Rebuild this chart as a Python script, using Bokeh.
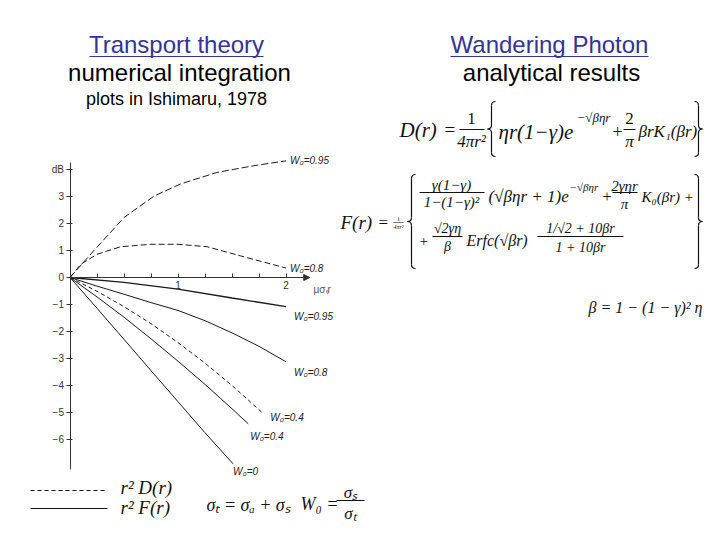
from bokeh.plotting import figure
from bokeh.models import Range1d, LinearAxis, FixedTicker, Arrow, NormalHead
from bokeh.core.properties import value
from bokeh.embed import file_html
from bokeh.resources import INLINE

# ---------------- data (x = optical distance, y = dB) ----------------
x_d095 = [0, 0.1, 0.22, 0.5, 0.78, 1.02, 1.36, 1.70, 2.0]
y_d095 = [0, 0.45, 0.99, 2.22, 3.02, 3.46, 3.89, 4.14, 4.32]
x_d08 = [0, 0.1, 0.25, 0.47, 0.75, 1.0, 1.27, 1.58, 2.0]
y_d08 = [0, 0.49, 0.86, 1.14, 1.23, 1.23, 1.14, 0.80, 0.35]
x_f095 = [0, 0.5, 1.0, 1.5, 2.0]
y_f095 = [0, -0.18, -0.43, -0.76, -1.08]
x_f08 = [0, 0.25, 0.5, 0.75, 1.0, 1.25, 1.5, 1.75, 2.0]
y_f08 = [0, -0.32, -0.62, -0.93, -1.22, -1.6, -2.05, -2.55, -3.12]
x_d04 = [0, 0.25, 0.5, 0.75, 1.0, 1.25, 1.5, 1.79]
y_d04 = [0, -0.51, -1.08, -1.71, -2.41, -3.17, -4.0, -5.04]
x_f04 = [0, 0.25, 0.5, 0.75, 1.0, 1.25, 1.5, 1.65]
y_f04 = [0, -0.72, -1.47, -2.27, -3.10, -3.96, -4.86, -5.42]
x_f0 = [0, 0.25, 0.5, 0.75, 1.0, 1.25, 1.51]
y_f0 = [0, -1.14, -2.29, -3.45, -4.6, -5.75, -6.9]

curve_labels = ["W₀=0.95", "W₀=0.8", "W₀=0.95", "W₀=0.8", "W₀=0.4", "W₀=0.4", "W₀=0"]
y_ticks = [-6, -5, -4, -3, -2, -1, 0, 1, 2, 3, 4]
x_ticks = [0.25, 0.5, 0.75, 1.0, 1.25, 1.5, 1.75, 2.0]
x_tick_labels = {1.0: "1", 2.0: "2"}
y_unit_label = "dB"
x_axis_label = "μσₜr"

# ---------------- layout: the frame fills the figure; slide pixel coords ----------------
W, H = 704, 524
OX, OY, PXX, PXY = 69.5, 277.0, 108.0, 27.0

p = figure(width=W, height=H, output_backend="svg", toolbar_location=None,
           x_axis_type=None, y_axis_type=None,
           x_range=Range1d((0 - OX) / PXX, (W - OX) / PXX),
           y_range=Range1d((OY - H) / PXY, (OY - 0) / PXY),
           min_border=0, outline_line_color=None)
p.extra_x_ranges = {"sx": Range1d(0, W)}
p.extra_y_ranges = {"sy": Range1d(H, 0)}

AXC = "#333333"
yax = LinearAxis(fixed_location=0, bounds=(-7.1, 4.25),
                 ticker=FixedTicker(ticks=y_ticks),
                 major_label_overrides={4: y_unit_label},
                 major_tick_in=2, major_tick_out=4, minor_tick_line_color=None,
                 axis_line_color=AXC, major_tick_line_color=AXC,
                 major_label_text_font="Liberation Sans", major_label_text_font_size="10px",
                 major_label_text_color=AXC, major_label_standoff=2)
xax = LinearAxis(fixed_location=0, bounds=(0, 2.2),
                 ticker=FixedTicker(ticks=x_ticks),
                 major_label_overrides={t: x_tick_labels.get(t, "") for t in x_ticks},
                 major_tick_in=4, major_tick_out=0, minor_tick_line_color=None,
                 axis_line_color=AXC, major_tick_line_color=AXC,
                 major_label_text_font="Liberation Sans", major_label_text_font_size="10px",
                 major_label_text_color=AXC, major_label_standoff=3)
p.add_layout(yax, "left")
p.add_layout(xax, "below")
p.add_layout(Arrow(end=NormalHead(size=6, fill_color=AXC, line_color=AXC),
                   x_start=2.12, y_start=0, x_end=2.22, y_end=0, line_color=AXC, line_width=1))

LC = "#1a1a1a"
series = [
    (x_d095, y_d095, "7 3", 1.0, (4, 0)),
    (x_d08, y_d08, "6 3", 1.0, (4, 0)),
    (x_f095, y_f095, "solid", 1.4, (8, 10)),
    (x_f08, y_f08, "solid", 1.0, (8, 11)),
    (x_d04, y_d04, "4 3", 1.0, (7, 4)),
    (x_f04, y_f04, "solid", 1.0, (2, 13)),
    (x_f0, y_f0, "solid", 1.0, (0, 8)),
]
for (xs, ys, dash, lw, (dx, dy)), lab in zip(series, curve_labels):
    p.line(xs, ys, line_color=LC, line_width=lw, line_dash=dash)
    p.text(x=[xs[-1]], y=[ys[-1]], text=[lab], x_offset=dx, y_offset=dy,
           text_font=value("Liberation Sans"), text_font_style="italic",
           text_font_size="10px", text_color="#222222", text_baseline="middle")

p.text(x=[2.2], y=[0], text=[x_axis_label], x_offset=6, y_offset=12,
       text_font=value("Liberation Sans"), text_font_size="10px",
       text_color="#555555", text_baseline="middle")


# ---------------- slide texts (slide-pixel ranges) ----------------
def txt(x, y, s, size, font="Liberation Serif", style="italic", color="#111111",
        align="left"):
    p.text(x=[x], y=[y], text=[s], x_range_name="sx", y_range_name="sy",
           text_font=value(font), text_font_size=f"{size}px", text_font_style=style,
           text_color=color, text_align=align, text_baseline="middle")


def seg(x0, y0, x1, y1, color="#111111", lw=1.0, dash="solid"):
    p.segment(x0=[x0], y0=[y0], x1=[x1], y1=[y1], x_range_name="sx", y_range_name="sy",
              line_color=color, line_width=lw, line_dash=dash)


def brace(xc, y0, y1, s, w=4, lw=1.2):
    ym = (y0 + y1) / 2
    kw = dict(x_range_name="sx", y_range_name="sy", line_color="#111111", line_width=lw)
    p.quadratic(x0=[xc + s * w, xc, xc - s * w, xc], y0=[y0, ym - w, ym, y1 - w],
                x1=[xc, xc - s * w, xc, xc + s * w], y1=[y0 + w, ym, ym + w, y1],
                cx=[xc, xc, xc, xc], cy=[y0, ym, ym, y1], **kw)
    p.segment(x0=[xc, xc], y0=[y0 + w, ym + w], x1=[xc, xc], y1=[ym - w, y1 - w], **kw)


BLUE = "#333399"
SANS = "Liberation Sans"
txt(176, 44, "Transport theory", 24, SANS, "normal", BLUE, "center")
seg(89, 56, 263, 56, BLUE, 1.2)
txt(179, 72, "numerical integration", 24, SANS, "normal", "#000000", "center")
txt(176, 98, "plots in Ishimaru, 1978", 18, SANS, "normal", "#000000", "center")
txt(549, 44, "Wandering Photon", 24, SANS, "normal", BLUE, "center")
seg(450, 56, 648, 56, BLUE, 1.2)
txt(551, 72, "analytical results", 24, SANS, "normal", "#000000", "center")

# D(r)
txt(399, 129, "D(r)", 21)
txt(444, 129, "=", 19, style="normal")
txt(471, 118, "1", 17, style="normal", align="center")
seg(459, 129, 484, 129)
txt(471, 141, "4πr²", 17, align="center")
brace(491, 101, 156, +1)
txt(498, 131, "ηr(1−γ)e", 21)
txt(576, 117, "−√βηr", 13)
txt(612, 131, "+", 18, style="normal")
txt(629, 118, "2", 17, style="normal", align="center")
seg(623, 129, 635, 129)
txt(629, 141, "π", 17, align="center")
txt(638, 131, "βrK₁(βr)", 17)
brace(698, 101, 156, -1)

# F(r)
txt(340, 222, "F(r)", 19)
txt(378, 222, "=", 17, style="normal")
txt(398, 218, "1", 6, style="normal", align="center")
seg(393, 222, 403, 222, lw=0.6)
txt(398, 226, "4πr²", 6, align="center")
brace(411, 174, 268, +1)
txt(451, 184, "γ(1−γ)", 15, align="center")
seg(419, 192, 484, 192)
txt(451, 201, "1−(1−γ)²", 15, align="center")
txt(488, 196, "(√βηr + 1)e", 17)
txt(569, 186, "−√βηr", 11)
txt(602, 196, "+", 16, style="normal")
txt(624, 185, "2γηr", 15, align="center")
seg(612, 192, 637, 192)
txt(624, 203, "π", 15, align="center")
txt(641, 196, "K₀(βr) +", 15)
txt(419, 240, "+", 15, style="normal")
txt(447, 228, "√2γη", 14, align="center")
seg(432, 236, 462, 236)
txt(447, 246, "β", 14, align="center")
txt(466, 240, "Erfc(√βr)", 16)
txt(580, 228, "1/√2 + 10βr", 14, align="center")
seg(537, 236, 623, 236)
txt(580, 247, "1 + 10βr", 14, align="center")
brace(698, 174, 268, -1)

# beta
txt(588, 307, "β = 1 − (1 − γ)² η", 16)

# bottom legend & definitions
seg(30, 490, 105, 490, lw=1.0, dash="4 3")
seg(30, 508, 107, 508, lw=1.0)
txt(120, 487, "r² D(r)", 19)
txt(120, 507, "r² F(r)", 19)
txt(206, 504, "σₜ = σₐ + σₛ", 18)
txt(300, 503, "W₀ =", 18)
txt(350, 492, "σₛ", 17, align="center")
seg(336, 500, 364, 500)
txt(350, 513, "σₜ", 17, align="center")

open("out.html", "w").write(file_html(p, INLINE))
